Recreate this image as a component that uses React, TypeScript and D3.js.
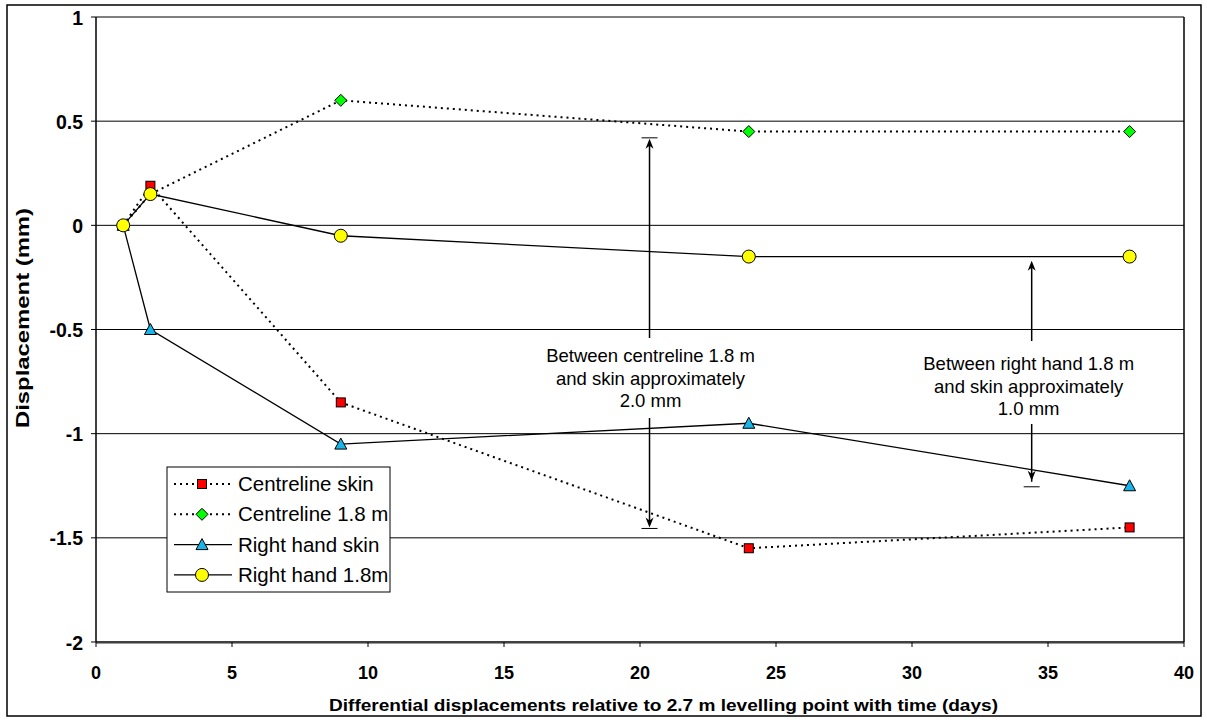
import React from "react";
import * as d3 from "d3";

const days = [1, 2, 9, 24, 38];
const centrelineSkin = [0, 0.19, -0.85, -1.55, -1.45];
const centreline18 = [0, 0.15, 0.6, 0.45, 0.45];
const rightHandSkin = [0, -0.5, -1.05, -0.95, -1.25];
const rightHand18 = [0, 0.15, -0.05, -0.15, -0.15];
const xTicks = [0, 5, 10, 15, 20, 25, 30, 35, 40];
const yTicks = [1, 0.5, 0, -0.5, -1, -1.5, -2];
const seriesNames = ["Centreline skin", "Centreline 1.8 m", "Right hand skin", "Right hand 1.8m"];

const W = 1207, H = 722;
const L = 96, R = 1184, T = 17, B = 642;

export default function App() {
  const x = d3.scaleLinear().domain([0, 40]).range([L, R]);
  const y = d3.scaleLinear().domain([-2, 1]).range([B, T]);
  const line = d3.line<[number, number]>().x(d => x(d[0])).y(d => y(d[1]));
  const font = "'Liberation Sans', Arial, sans-serif";
  const bold = { fontWeight: 700 } as React.CSSProperties;

  const series = [
    { name: seriesNames[0], vals: centrelineSkin, dotted: true, marker: "square", fill: "#FF0000" },
    { name: seriesNames[1], vals: centreline18, dotted: true, marker: "diamond", fill: "#00FF00" },
    { name: seriesNames[2], vals: rightHandSkin, dotted: false, marker: "triangle", fill: "#19B4E8" },
    { name: seriesNames[3], vals: rightHand18, dotted: false, marker: "circle", fill: "#FFFF00" },
  ];

  const marker = (type: string, cx: number, cy: number, fill: string, key: any) => {
    const st = { fill, stroke: "#000", strokeWidth: 1 };
    if (type === "square") return <rect key={key} x={cx - 4.5} y={cy - 4.5} width={9} height={9} {...st} />;
    if (type === "diamond") return <path key={key} d={`M${cx},${cy - 6}L${cx + 6},${cy}L${cx},${cy + 6}L${cx - 6},${cy}Z`} {...st} />;
    if (type === "triangle") return <path key={key} d={`M${cx},${cy - 6}L${cx + 6},${cy + 5}L${cx - 6},${cy + 5}Z`} {...st} />;
    return <circle key={key} cx={cx} cy={cy} r={6.5} {...st} />;
  };

  const a1x = 20.35, a1top = 0.42, a1bot = -1.455;
  const a2x = 34.4, a2top = -0.175, a2bot = -1.255;

  const arrowHead = (px: number, py: number, dir: number, key: string) => (
    <path key={key} d={`M${px},${py}L${px - 4},${py - dir * 10}L${px},${py - dir * 7}L${px + 4},${py - dir * 10}Z`} fill="#000" />
  );

  const lx = 167, ly = 467;

  return (
    <svg width={W} height={H} style={{ position: "absolute", left: 0, top: 0, background: "#fff" }} fontFamily={font}>
      <rect x={7} y={5} width={1194} height={711} fill="#fff" stroke="#000" strokeWidth={1.5} />
      {yTicks.filter(v => v > -2).map(v => (
        <line key={v} x1={L} x2={R} y1={y(v)} y2={y(v)} stroke="#000" strokeWidth={1} />
      ))}
      <line x1={R} x2={R} y1={T} y2={B} stroke="#000" strokeWidth={1.5} />
      <line x1={L} x2={L} y1={T} y2={B} stroke="#000" strokeWidth={1.5} />
      <line x1={L} x2={R} y1={B} y2={B} stroke="#000" strokeWidth={1.5} />
      <line x1={L} x2={R} y1={B + 1.5} y2={B + 1.5} stroke="#999" strokeWidth={1} />
      {yTicks.map(v => (
        <g key={"yt" + v}>
          <line x1={L - 5} x2={L} y1={y(v)} y2={y(v)} stroke="#000" strokeWidth={1} />
          <text x={83} y={y(v) + 7.5} textAnchor="end" fontSize={19.5} style={bold}>{v}</text>
        </g>
      ))}
      {xTicks.map(v => (
        <g key={"xt" + v}>
          <line x1={x(v)} x2={x(v)} y1={B} y2={B + 5} stroke="#000" strokeWidth={1} />
          <text x={x(v)} y={679} textAnchor="middle" fontSize={18} style={bold}>{v}</text>
        </g>
      ))}
      <text x={329} y={711} fontSize={17} style={bold} textLength={669} lengthAdjust="spacingAndGlyphs">
        Differential displacements relative to 2.7 m levelling point with time (days)
      </text>
      <text transform={`translate(29,428) rotate(-90)`} fontSize={18} style={bold} textLength={220} lengthAdjust="spacingAndGlyphs">
        Displacement (mm)
      </text>

      {series.map((s, i) => (
        <path key={"l" + i} d={line(days.map((d, j) => [d, s.vals[j]]) as [number, number][]) || ""}
          fill="none" stroke="#000" strokeWidth={s.dotted ? 2 : 1.3} strokeDasharray={s.dotted ? "2,4" : undefined} />
      ))}
      {series.map((s, i) => days.map((d, j) => marker(s.marker, x(d), y(s.vals[j]), s.fill, `m${i}-${j}`)))}

      <g>
        <line x1={x(a1x) - 8} x2={x(a1x) + 8} y1={y(a1top)} y2={y(a1top)} stroke="#000" strokeWidth={1} />
        <line x1={x(a1x) - 8} x2={x(a1x) + 8} y1={y(a1bot)} y2={y(a1bot)} stroke="#000" strokeWidth={1} />
        <line x1={x(a1x)} x2={x(a1x)} y1={y(a1top) + 4} y2={338} stroke="#000" strokeWidth={1.5} />
        <line x1={x(a1x)} x2={x(a1x)} y1={418} y2={y(a1bot) - 4} stroke="#000" strokeWidth={1.5} />
        {arrowHead(x(a1x), y(a1top) + 1, -1, "a1t")}
        {arrowHead(x(a1x), y(a1bot) - 1, 1, "a1b")}
        <rect x={x(a1x) - 110} y={340} width={220} height={75} fill="#fff" />
        {["Between centreline 1.8 m", "and skin approximately", "2.0 mm"].map((t, i) => (
          <text key={t} x={x(a1x) + 1} y={362 + i * 22.5} textAnchor="middle" fontSize={18.5}>{t}</text>
        ))}
      </g>
      <g>
        <line x1={x(a2x) - 8} x2={x(a2x) + 8} y1={y(a2bot)} y2={y(a2bot)} stroke="#000" strokeWidth={1} />
        <line x1={x(a2x)} x2={x(a2x)} y1={y(a2top) + 4} y2={341} stroke="#000" strokeWidth={1.5} />
        <line x1={x(a2x)} x2={x(a2x)} y1={424} y2={y(a2bot) - 5} stroke="#000" strokeWidth={1.5} />
        {arrowHead(x(a2x), y(a2top) - 1, -1, "a2t")}
        {arrowHead(x(a2x), y(a2bot) - 6, 1, "a2b")}
        <rect x={x(a2x) - 115} y={343} width={226} height={78} fill="#fff" />
        {["Between right hand 1.8 m", "and skin approximately", "1.0 mm"].map((t, i) => (
          <text key={t} x={x(a2x) - 3} y={370 + i * 22.5} textAnchor="middle" fontSize={18.5}>{t}</text>
        ))}
      </g>

      <rect x={lx} y={ly} width={223} height={125} fill="#fff" stroke="#000" strokeWidth={1} />
      {series.map((s, i) => {
        const cy = ly + 17 + i * 30.3;
        return (
          <g key={"lg" + i}>
            <line x1={lx + 7} x2={lx + 65} y1={cy} y2={cy} stroke="#000" strokeWidth={s.dotted ? 2 : 1.3}
              strokeDasharray={s.dotted ? "2,4" : undefined} />
            {marker(s.marker, lx + 35, cy, s.fill, "lm" + i)}
            <text x={lx + 71} y={cy + 7} fontSize={20.5}>{s.name}</text>
          </g>
        );
      })}
    </svg>
  );
}
